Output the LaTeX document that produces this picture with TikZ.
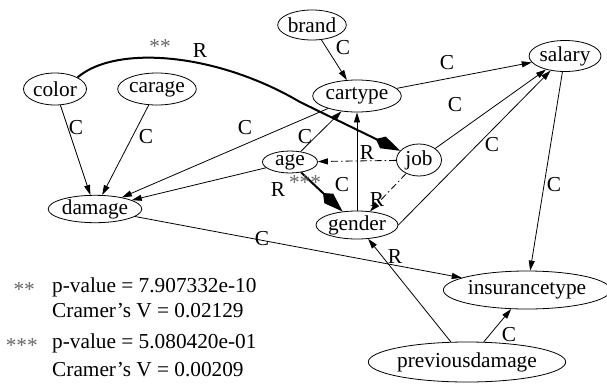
\documentclass[tikz,border=0pt]{standalone}
\usepackage{fontspec}
\setmainfont{Liberation Serif}
\usetikzlibrary{arrows.meta,shapes.geometric}
\begin{document}
\begin{tikzpicture}[x=1pt,y=-1pt,
  nd/.style={ellipse,draw,line width=0.8pt,inner sep=0pt,font=\fontsize{21.3}{23}\selectfont},
  lbl/.style={inner sep=0pt,font=\fontsize{21.3}{23}\selectfont},
  arr/.style={line width=0.8pt,-{Triangle[length=10pt,width=6pt]}},
  boldarr/.style={line width=2pt,-{Kite[length=27pt,width=13pt,inset=8pt]}},
  dd/.style={arr,dash pattern=on 7pt off 3pt on 1.5pt off 3pt},
  star/.style={lbl,text=black!60}]
\useasboundingbox (0,0) rectangle (607,383);
% nodes
\node[nd,minimum width=61pt,minimum height=30pt] (brand) at (312,25) {brand};
\node[nd,minimum width=80pt,minimum height=32pt] (cartype) at (357,96) {cartype};
\node[nd,minimum width=71pt,minimum height=31pt] (salary) at (565,56) {salary};
\node[nd,minimum width=45pt,minimum height=32pt] (job) at (419,160) {job};
\node[nd,minimum width=55pt,minimum height=21pt] (age) at (290,162) {age};
\node[nd,minimum width=80pt,minimum height=28pt] (gender) at (357,225) {gender};
\node[nd,minimum width=63pt,minimum height=32pt] (color) at (55,89) {color};
\node[nd,minimum width=71pt,minimum height=32pt] (carage) at (157,89) {carage};
\node[nd,minimum width=90pt,minimum height=26pt] (damage) at (95,209) {damage};
\node[nd,minimum width=158pt,minimum height=38pt] (insurancetype) at (527,290) {insurancetype};
\node[nd,minimum width=160pt,minimum height=40pt] (previousdamage) at (467,362) {previousdamage};
% edges
\draw[arr] (brand) -- (cartype);
\node[lbl] (l1) at (343,48) {C};
\draw[arr] (cartype) -- (salary);
\node[lbl] (l2) at (447,63) {C};
\draw[arr] (job) -- (salary);
\node[lbl] (l3) at (455,105) {C};
\draw[arr] (gender.east) -- (salary);
\node[lbl] (l4) at (492,145) {C};
\draw[arr] (salary) -- (insurancetype);
\node[lbl] (l5) at (554,185) {C};
\draw[arr] (cartype) -- (damage);
\node[lbl] (l6) at (245,128) {C};
\draw[arr] (age) -- (cartype);
\node[lbl] (l7) at (305,137) {C};
\draw[arr] (age) -- (damage);
\draw[arr] (gender) -- (cartype);
\node[lbl] (l8) at (342,185) {C};
\draw[dd] (job) -- (age);
\node[lbl] (l9) at (367,153) {R};
\draw[dd] (job) -- (gender);
\node[lbl] (l10) at (377,200) {R};
\draw[boldarr] (age) -- (gender);
\node[lbl] (l11) at (278,190) {R};
\node[star] (s11) at (305,183) {***};
\draw[boldarr] (color.north east) .. controls (115,45) and (215,52) .. (300,102) -- (job);
\node[star] (s12) at (160,47) {**};
\node[lbl] (l12) at (200,51) {R};
\draw[arr] (damage) -- (insurancetype);
\node[lbl] (l13) at (262,239) {C};
\draw[arr] (previousdamage) -- (gender);
\node[lbl] (l14) at (395,257) {R};
\draw[arr] (previousdamage) -- (insurancetype);
\node[lbl] (l15) at (509,335) {C};
\draw[arr] (color) -- (damage);
\node[lbl] (l16) at (76,128) {C};
\draw[arr] (carage) -- (damage);
\node[lbl] (l17) at (146,137) {C};
% legend
\node[star,anchor=east] (s2) at (35,290) {**};
\node[lbl,anchor=west] (p1) at (52,287) {p-value = 7.907332e-10};
\node[lbl,anchor=west] (v1) at (52,311) {Cramer's V = 0.02129};
\node[star,anchor=east] (s3) at (38,346) {***};
\node[lbl,anchor=west] (p2) at (52,343) {p-value = 5.080420e-01};
\node[lbl,anchor=west] (v2) at (52,370) {Cramer's V = 0.00209};
\end{tikzpicture}
\end{document}
